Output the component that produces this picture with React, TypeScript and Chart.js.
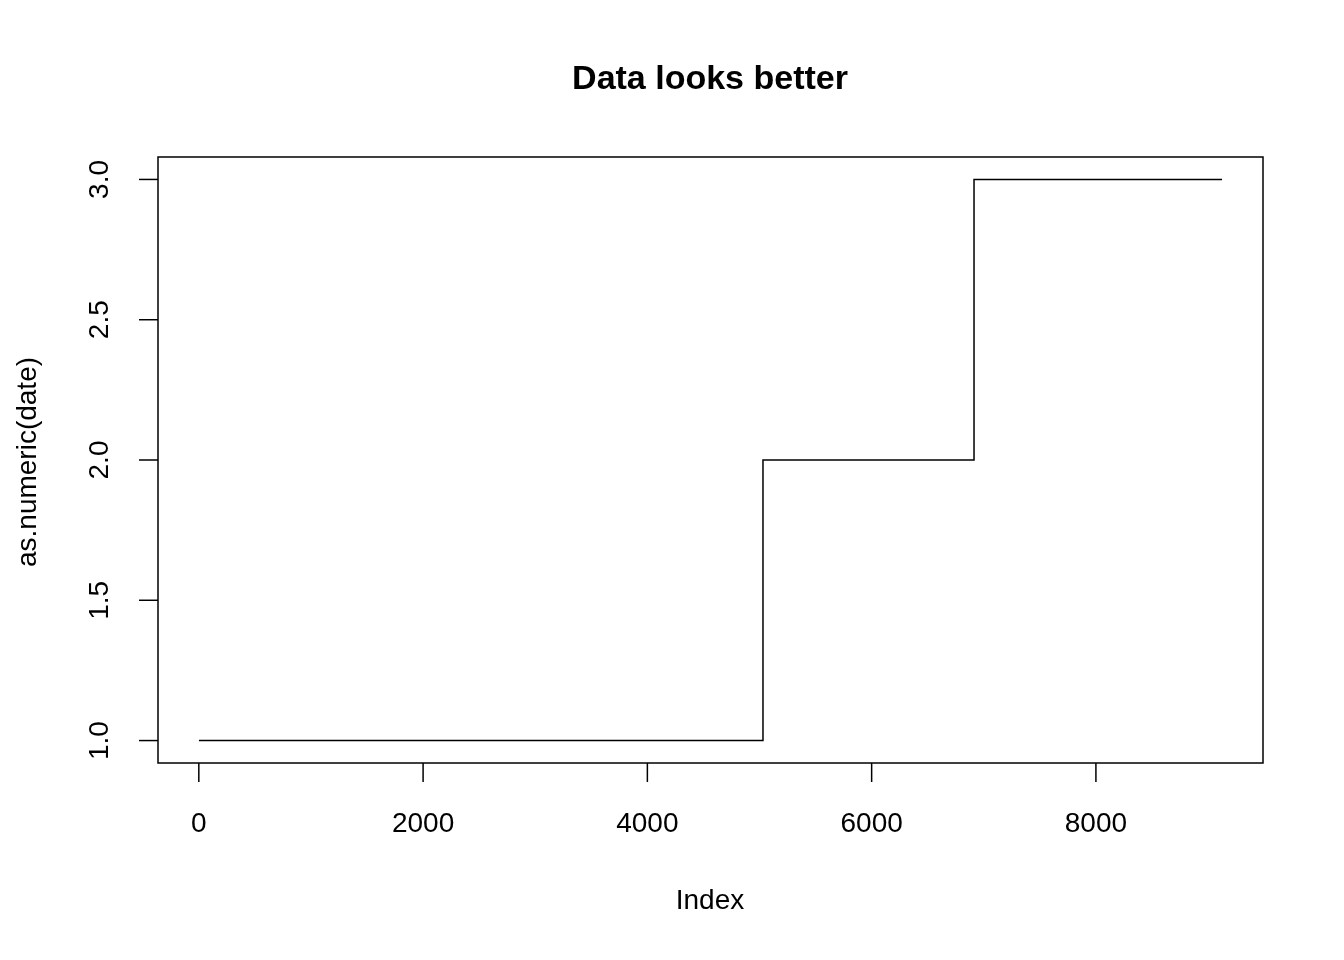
import { useEffect, useRef } from "react";
import { Chart, registerables } from "chart.js";

Chart.register(...registerables);

// step change points (index, value)
const INDEX = [1, 5031, 6913, 9125];
const VALUE = [1, 2, 3, 3];
const X_TICKS = [0, 2000, 4000, 6000, 8000];
const Y_TICKS = [1.0, 1.5, 2.0, 2.5, 3.0];

const FONT = "Liberation Sans, Arial, sans-serif";

const rAxes = {
  id: "rAxes",
  afterDraw(chart: Chart) {
    const { ctx, chartArea: a } = chart;
    const xs = chart.scales.x;
    const ys = chart.scales.y;
    ctx.save();
    ctx.strokeStyle = "#000";
    ctx.fillStyle = "#000";
    ctx.lineWidth = 1.5;
    ctx.strokeRect(a.left, a.top, a.right - a.left, a.bottom - a.top);

    ctx.font = `28px ${FONT}`;
    ctx.textAlign = "center";
    ctx.textBaseline = "middle";
    X_TICKS.forEach((t) => {
      const px = xs.getPixelForValue(t);
      ctx.beginPath();
      ctx.moveTo(px, a.bottom);
      ctx.lineTo(px, a.bottom + 19);
      ctx.stroke();
      ctx.fillText(String(t), px, 824);
    });
    Y_TICKS.forEach((t) => {
      const py = ys.getPixelForValue(t);
      ctx.beginPath();
      ctx.moveTo(a.left, py);
      ctx.lineTo(a.left - 19, py);
      ctx.stroke();
      ctx.save();
      ctx.translate(100, py);
      ctx.rotate(-Math.PI / 2);
      ctx.fillText(t.toFixed(1), 0, 0);
      ctx.restore();
    });

    ctx.fillText("Index", 710, 901);
    ctx.save();
    ctx.translate(28, 462);
    ctx.rotate(-Math.PI / 2);
    ctx.fillText("as.numeric(date)", 0, 0);
    ctx.restore();

    ctx.font = `bold 34px ${FONT}`;
    ctx.fillText("Data looks better", 710, 80);
    ctx.restore();
  },
};

export default function App() {
  const canvasRef = useRef<HTMLCanvasElement>(null);

  useEffect(() => {
    document.body.style.margin = "0";
    if (!canvasRef.current) return;
    const chart = new Chart(canvasRef.current, {
      type: "line",
      data: {
        datasets: [
          {
            data: INDEX.map((x, i) => ({ x, y: VALUE[i] })),
            borderColor: "#000",
            borderWidth: 1.5,
            pointRadius: 0,
            stepped: "before",
          },
        ],
      },
      options: {
        responsive: false,
        animation: false,
        layout: { padding: { left: 158, right: 81, top: 157, bottom: 197 } },
        plugins: { legend: { display: false }, tooltip: { enabled: false } },
        scales: {
          x: { type: "linear", min: -364, max: 9490, display: false },
          y: { type: "linear", min: 0.92, max: 3.08, display: false },
        },
      },
      plugins: [rAxes],
    });
    return () => chart.destroy();
  }, []);

  return (
    <div style={{ background: "#fff", width: 1344, height: 960 }}>
      <canvas ref={canvasRef} width={1344} height={960} />
    </div>
  );
}
